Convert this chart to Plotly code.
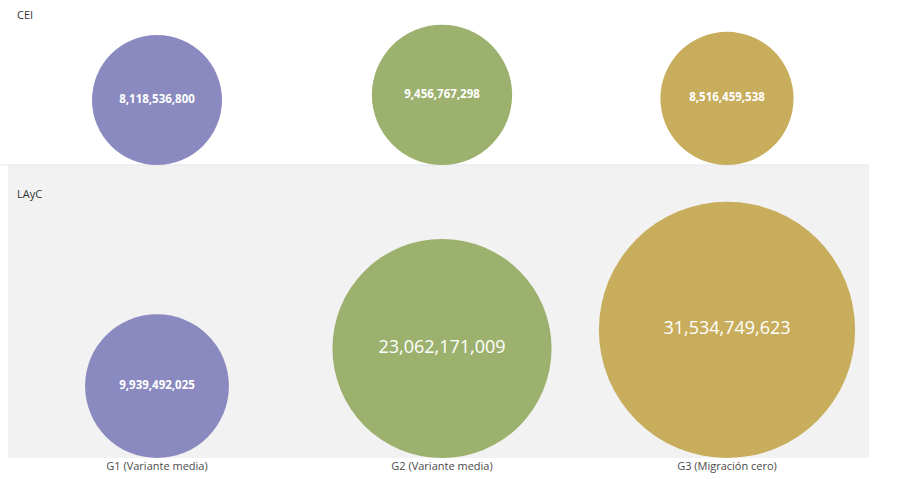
import numpy as np
import plotly.graph_objects as go
from plotly.subplots import make_subplots

# Data
categories = ["G1 (Variante media)", "G2 (Variante media)", "G3 (Migración cero)"]
cei_values = [8118536800, 9456767298, 8516459538]
layc_values = [9939492025, 23062171009, 31534749623]
region_names = ["CEI", "LAyC"]
colors = ["#8a8ac0", "#9db16e", "#c8ad5c"]

W, H = 900, 479
# pixel bounds of the two panels
top_h = 165
bottom_y = 458
px_left, px_right = 8, 869
centers_px = [157, 442, 727]
step = 285

# bubble diameter proportional to sqrt(value) (area scaling)
ref_d = 130.0
k = ref_d / np.sqrt(cei_values[0])


def diam(vals):
    return [k * np.sqrt(v) for v in vals]


def label(v, big):
    s = f"{v:,}"
    return s if big else f"<b>{s}</b>"


fig = make_subplots(rows=2, cols=1, shared_xaxes=True, vertical_spacing=0)

rows = [(cei_values, 1, top_h), (layc_values, 2, bottom_y - top_h)]
for vals, r, span in rows:
    d = diam(vals)
    big = [v > 2e10 for v in vals]
    fig.add_trace(
        go.Scatter(
            x=categories,
            y=[di / 2 for di in d],
            mode="markers+text",
            marker=dict(size=d, color=colors, opacity=1, line=dict(width=0)),
            text=[label(v, b) for v, b in zip(vals, big)],
            textposition="middle center",
            textfont=dict(
                family="Open Sans",
                color="white",
                size=[18 if b else 11.5 for b in big],
            ),
            hoverinfo="skip",
            showlegend=False,
            cliponaxis=False,
        ),
        row=r,
        col=1,
    )
    fig.update_yaxes(range=[0, span], visible=False, fixedrange=True, row=r, col=1)

x0 = -(centers_px[0] - px_left) / step
x1 = 2 + (px_right - centers_px[2]) / step
dom = [px_left / W, px_right / W]
fig.update_xaxes(range=[x0, x1], domain=dom, showgrid=False, zeroline=False,
                 showline=False, ticks="", fixedrange=True)
fig.update_xaxes(showticklabels=False, row=1, col=1)
fig.update_xaxes(showticklabels=True, tickfont=dict(family="Open Sans", size=11, color="#4a4a4a"),
                 row=2, col=1)

fig.update_layout(
    yaxis=dict(domain=[(H - top_h) / H, 1.0]),
    yaxis2=dict(domain=[(H - bottom_y) / H, (H - top_h) / H]),
)

# gray background for the lower panel and separator line
fig.add_shape(type="rect", xref="x2 domain", yref="y2 domain", x0=0, x1=1, y0=0, y1=1,
              fillcolor="#f2f2f2", line=dict(width=0), layer="below")
fig.add_shape(type="line", xref="paper", yref="y2 domain", x0=0, x1=px_right / W, y0=1, y1=1,
              line=dict(color="#e2e4e8", width=1), layer="below")

# panel titles
for name, ypx in zip(region_names, [15, 193]):
    fig.add_annotation(text=name, xref="paper", yref="paper", x=15 / W, y=1 - ypx / H,
                       xanchor="left", yanchor="middle", showarrow=False,
                       font=dict(family="Open Sans", size=11, color="#333333"))

fig.update_layout(
    width=W,
    height=H,
    margin=dict(l=0, r=0, t=0, b=0),
    paper_bgcolor="white",
    plot_bgcolor="rgba(0,0,0,0)",
    font=dict(family="Open Sans"),
)

fig.write_html("out.html", config={"displayModeBar": False})
